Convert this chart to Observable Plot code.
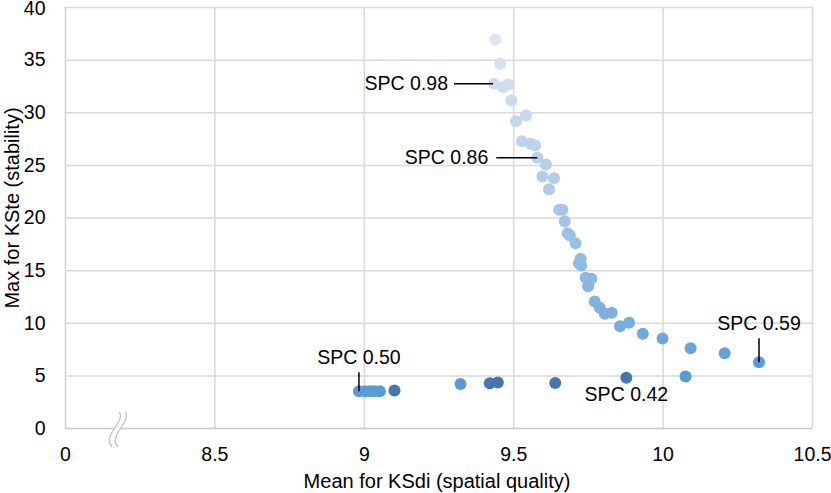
<!DOCTYPE html>
<html><head><meta charset="utf-8">
<script src="https://cdn.jsdelivr.net/npm/d3@7"></script>
<script src="https://cdn.jsdelivr.net/npm/@observablehq/plot@0.6"></script>
<style>body{margin:0;background:#fff} #chart{width:831px;height:493px}</style>
</head><body><div id="chart"></div>
<script>
// Upper curve (Mean KSdi, Max KSte)
const curveX = [9.439, 9.455, 9.434, 9.464, 9.482, 9.492, 9.541, 9.508, 9.527, 9.557, 9.572, 9.579, 9.608, 9.596, 9.635, 9.618,
  9.652, 9.663, 9.671, 9.680, 9.688, 9.707, 9.724, 9.718, 9.726, 9.741, 9.760, 9.749, 9.771, 9.788, 9.805, 9.828, 9.856, 9.886,
  9.932, 9.998, 10.092, 10.206, 10.321];
const curveY = [36.96, 34.65, 32.75, 32.43, 32.68, 31.16, 29.74, 29.20, 27.30, 27.05, 26.90, 25.72, 25.08, 23.94, 23.78, 22.74,
  20.78, 20.78, 19.70, 18.56, 18.34, 17.60, 16.12, 15.70, 15.49, 14.32, 14.22, 13.52, 12.07, 11.47, 10.90, 10.99, 9.72, 10.04,
  9.00, 8.55, 7.63, 7.16, 6.30];
// Lower row
const baseX = [8.982, 9.003, 9.020, 9.035, 9.052, 9.101, 9.322, 9.420, 9.447, 9.639, 9.877, 10.075];
const baseY = [3.54, 3.54, 3.54, 3.54, 3.54, 3.60, 4.22, 4.30, 4.38, 4.32, 4.82, 4.95];
const baseDark = [false, false, false, false, false, true, false, true, true, true, true, false];

const xTicks = [8, 8.5, 9, 9.5, 10, 10.5];
const xTickLabels = ["0", "8.5", "9", "9.5", "10", "10.5"];
const yTicks = [0, 5, 10, 15, 20, 25, 30, 35, 40];

const annLabels = ["SPC 0.98", "SPC 0.86", "SPC 0.59", "SPC 0.50", "SPC 0.42"];
const annSeries = ["curve", "curve", "curve", "base", "base"];
const annIndex = [2, 11, 38, 0, 10];

const xTitle = "Mean for KSdi (spatial quality)";
const yTitle = "Max for KSte (stability)";

// ---- build
const points = [
  ...curveX.map((x, i) => ({x, y: curveY[i], kind: "curve"})),
  ...baseX.map((x, i) => ({x, y: baseY[i], kind: baseDark[i] ? "dark" : "base"}))
];
const light = d3.rgb("#dbe5f3"), mid = d3.rgb("#5b9bd5"), dark = "#4677aa";
const interp = d3.interpolateRgb(mid, light);
function fillOf(d) {
  if (d.kind === "dark") return dark;
  if (d.kind === "base") return "#5b9bd5";
  const t = Math.max(0, Math.min(1, (d.y - 6.3) / 30.7));
  return interp(Math.pow(t, 0.7));
}

const W = 831, H = 493, mL = 65, mR = 19, mT = 7, mB = 65;
const kx = 2.5 / (W - mL - mR), ky = 40 / (H - mT - mB); // data units per px

// per-annotation layout (pixel offsets from the anchor point)
const annLayout = [
  {line: [-40, 0, -1, 0], tx: -46, ty: 0, anchor: "end"},
  {line: [-41, 0, 0, 0], tx: -49, ty: 0, anchor: "end"},
  {line: [0, -24, 0, 0], tx: 0, ty: -38, anchor: "middle"},
  {line: [0, -19, 0, 0], tx: 0, ty: -33, anchor: "middle"},
  {line: null, tx: 0, ty: 17, anchor: "middle"}
];
const anns = annLabels.map((label, i) => {
  const src = annSeries[i] === "curve" ? [curveX, curveY] : [baseX, baseY];
  const x = src[0][annIndex[i]], y = src[1][annIndex[i]];
  const L = annLayout[i];
  return {label, x, y, ...L,
    tX: x + L.tx * kx, tY: y - L.ty * ky,
    x1: L.line ? x + L.line[0] * kx : null, y1: L.line ? y - L.line[1] * ky : null,
    x2: L.line ? x + L.line[2] * kx : null, y2: L.line ? y - L.line[3] * ky : null};
});
const annLines = anns.filter(a => a.line);

const plot = Plot.plot({
  width: W, height: H,
  marginLeft: mL, marginRight: mR, marginTop: mT, marginBottom: mB,
  style: {fontFamily: "'Liberation Sans', Arial, Helvetica, sans-serif", fontSize: "19.5px", color: "#000", background: "#fff", overflow: "visible"},
  x: {domain: [8, 10.5]},
  y: {domain: [0, 40]},
  marks: [
    Plot.gridY(yTicks.filter(v => v > 0), {stroke: "#d9d9d9", strokeOpacity: 1, strokeWidth: 1.5}),
    Plot.gridX(xTicks.filter(v => v > 8), {stroke: "#d9d9d9", strokeOpacity: 1, strokeWidth: 1.5}),
    Plot.ruleY([0], {stroke: "#c8c8c8", strokeWidth: 1.6}),
    Plot.ruleX([8], {stroke: "#d0d0d0", strokeWidth: 1.5}),
    Plot.axisX(xTicks, {tickSize: 0, tickPadding: 19, label: null, fontSize: 19.5,
      tickFormat: (d) => xTickLabels[xTicks.indexOf(d)]}),
    Plot.axisY(yTicks.filter(v => v < 40), {tickSize: 0, tickPadding: 20, label: null, fontSize: 19.5}),
    Plot.axisY([40], {tickSize: 0, tickPadding: 20, label: null, fontSize: 19.5, dy: 1}),
    Plot.dot(points, {x: "x", y: "y", r: 6, fill: fillOf, stroke: "none"}),
    Plot.link(annLines, {x1: "x1", y1: "y1", x2: "x2", y2: "y2", stroke: "#000", strokeWidth: 1.5}),
    Plot.text(anns.filter(a => a.anchor === "end"), {x: "tX", y: "tY", text: "label", textAnchor: "end", fontSize: 19.5, fill: "#000"}),
    Plot.text(anns.filter(a => a.anchor === "middle"), {x: "tX", y: "tY", text: "label", textAnchor: "middle", fontSize: 19.5, fill: "#000"}),
    Plot.text([xTitle], {frameAnchor: "bottom", textAnchor: "middle", lineAnchor: "middle", dy: 53, dx: -2, fontSize: 20, fill: "#000"}),
    Plot.text([yTitle], {frameAnchor: "left", textAnchor: "middle", lineAnchor: "middle", rotate: -90, dx: -53, dy: -10, fontSize: 20, fill: "#000"})
  ]
});

// axis break marker
const bx = plot.scale("x").apply(8.175);
const by = plot.scale("y").apply(0);
const g = d3.select(plot).append("g");
const curve = (o) => `M${bx + 5 + o},${by - 16} C${bx + 10 + o},${by - 9} ${bx - 2 + o},${by + 1} ${bx - 4 + o},${by + 8} S${bx - 5 + o},${by + 16} ${bx - 2 + o},${by + 19}`;
g.append("path").attr("d", curve(-3) + `L${bx + 3},${by + 19}` + ` S${bx},${by + 16} ${bx - 1},${by + 8} C${bx + 1},${by + 1} ${bx + 13},${by - 9} ${bx + 8},${by - 16} Z`)
  .attr("fill", "#fff").attr("stroke", "none");
g.append("path").attr("d", curve(-3)).attr("fill", "none").attr("stroke", "#c4c4c4").attr("stroke-width", 1.3);
g.append("path").attr("d", curve(3)).attr("fill", "none").attr("stroke", "#c4c4c4").attr("stroke-width", 1.3);

document.getElementById("chart").append(plot);
</script>
</body></html>
